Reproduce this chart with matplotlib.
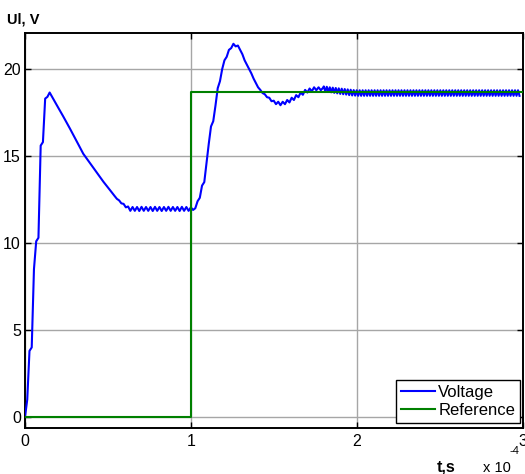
import numpy as np
import matplotlib
matplotlib.use("Agg")
import matplotlib.pyplot as plt

plt.rcParams['font.family'] = ['Liberation Sans', 'DejaVu Sans']

# ---------------- data (time in units of 1e-4 s) ----------------
# Voltage, main part sampled every 0.0135e-4 s starting at t = 0
main_dt = 0.0135
voltage_main = [
    0.0, 1.0, 3.8, 4.0, 8.5, 10.1, 10.3, 15.6, 15.8, 18.3, 18.4, 18.65, 18.42,
    18.19, 17.97, 17.74, 17.52, 17.29, 17.06, 16.83, 16.59, 16.35, 16.10, 15.86, 15.62, 15.37,
    15.13, 14.95, 14.77, 14.59, 14.41, 14.22, 14.04, 13.86, 13.69, 13.52, 13.36, 13.19, 13.03,
    12.86, 12.70, 12.54, 12.45, 12.28, 12.25, 12.05,
    12.1, 11.85, 12.07, 11.85, 12.07, 11.84, 12.08, 11.85, 12.07, 11.85, 12.07, 11.84, 12.08,
    11.85, 12.07, 11.84, 12.07, 11.85, 12.08, 11.85, 12.07, 11.85, 12.07, 11.84, 12.08, 11.85,
    12.07, 11.85, 12.05, 11.9,
    12.0, 12.4, 12.6, 13.3, 13.5, 14.6, 15.7, 16.7, 17.0, 17.9, 18.9, 19.3, 20.0, 20.5, 20.7,
    21.1, 21.2, 21.45, 21.3, 21.35, 21.1,
    20.85, 20.5, 20.25, 20.0, 19.75, 19.45, 19.2, 18.95, 18.8, 18.62, 18.55, 18.38,
    18.35, 18.15, 18.18, 17.98, 18.12, 17.92, 18.12, 17.98, 18.22, 18.08, 18.35, 18.22, 18.5,
    18.38, 18.65, 18.52, 18.8,
    18.65, 18.88, 18.72, 18.95, 18.78, 18.95, 18.78, 18.92,
]
# Voltage, steady-state part sampled every 0.009e-4 s starting at t = 1.8e-4 s
steady_start = 1.80
steady_dt = 0.009
voltage_steady = [
    19.0, 18.7, 18.98, 18.68, 18.95, 18.66, 18.93, 18.63, 18.91, 18.6, 18.89, 18.57,
    18.87, 18.55, 18.85, 18.53, 18.83, 18.5, 18.81, 18.48, 18.79, 18.47,
    18.78, 18.46, 18.78, 18.46, 18.78, 18.46, 18.78, 18.46, 18.78, 18.46, 18.78, 18.46,
    18.78, 18.46, 18.78, 18.46, 18.78, 18.46, 18.78, 18.46, 18.78, 18.46, 18.78, 18.46,
    18.78, 18.46, 18.78, 18.46, 18.78, 18.46, 18.78, 18.46, 18.78, 18.46, 18.78, 18.46,
    18.78, 18.46, 18.78, 18.46, 18.78, 18.46, 18.78, 18.46, 18.78, 18.46, 18.78, 18.46,
    18.78, 18.46, 18.78, 18.46, 18.78, 18.46, 18.78, 18.46, 18.78, 18.46, 18.78, 18.46,
    18.78, 18.46, 18.78, 18.46, 18.78, 18.46, 18.78, 18.46, 18.78, 18.46, 18.78, 18.46,
    18.78, 18.46, 18.78, 18.46, 18.78, 18.46, 18.78, 18.46, 18.78, 18.46, 18.78, 18.46,
    18.78, 18.46, 18.78, 18.46, 18.78, 18.46, 18.78, 18.46, 18.78, 18.46, 18.78, 18.46,
    18.78, 18.46, 18.78, 18.46, 18.78, 18.46, 18.78, 18.46, 18.78, 18.46, 18.78, 18.46,
    18.78, 18.46,
]
# Reference (step)
ref_t = [0.0, 1.0, 3.0]
ref_v = [0.0, 18.7, 18.7]

x_ticks = [0, 1, 2, 3]
y_ticks = [0, 5, 10, 15, 20]
legend_labels = ["Voltage", "Reference"]

t_main = np.arange(len(voltage_main)) * main_dt
t_steady = steady_start + np.arange(len(voltage_steady)) * steady_dt
t_volt = np.concatenate([t_main, t_steady])
v_volt = np.concatenate([voltage_main, voltage_steady])

# ---------------- figure ----------------
fig = plt.figure(figsize=(5.25, 4.74), dpi=100)
ax = fig.add_axes([25 / 525, 1 - 428 / 474, 498 / 525, 395 / 474])

ax.plot(t_volt, v_volt, color=(0, 0, 1), lw=1.5, label=legend_labels[0], zorder=3)
ax.plot(ref_t, ref_v, color=(0, 0.5, 0), lw=1.5, drawstyle='steps-post',
        label=legend_labels[1], zorder=3)

ax.set_xlim(0, 3)
ax.set_ylim(-0.63, 22.07)
ax.set_xticks(x_ticks)
ax.set_yticks(y_ticks)
ax.set_xticklabels([str(v) for v in x_ticks])
ax.set_yticklabels([str(v) for v in y_ticks])
ax.grid(True, color='#a6a6a6', lw=1.0, ls='-')
ax.set_axisbelow(True)
ax.tick_params(direction='in', top=True, right=True, length=4, width=1,
               labelsize=11.5, pad=4, colors='black')
ax.tick_params(axis='y', pad=3)
for s in ax.spines.values():
    s.set_linewidth(1.4)
    s.set_color('black')

leg = ax.legend(loc='lower right', bbox_to_anchor=(0.994, 0.0127), borderaxespad=0.0,
                fontsize=12, frameon=True, fancybox=False, framealpha=1,
                edgecolor='black', labelspacing=0.2, borderpad=0.3,
                handlelength=2.0, handletextpad=0.2)
leg.get_frame().set_linewidth(1.0)

fig.text(7 / 525, 1 - 19.5 / 474, "Ul, V", fontsize=10.5, fontweight='bold',
         ha='left', va='center')
fig.text(437 / 525, 1 - 471.7 / 474, "t,s", fontsize=11.5, fontweight='bold',
         ha='left', va='baseline')
fig.text(483 / 525, 1 - 471.7 / 474, "x 10", fontsize=10.5, ha='left', va='baseline')
fig.text(510 / 525, 1 - 454 / 474, "-4", fontsize=8, ha='left', va='baseline')

fig.savefig("out.png", dpi=100)
